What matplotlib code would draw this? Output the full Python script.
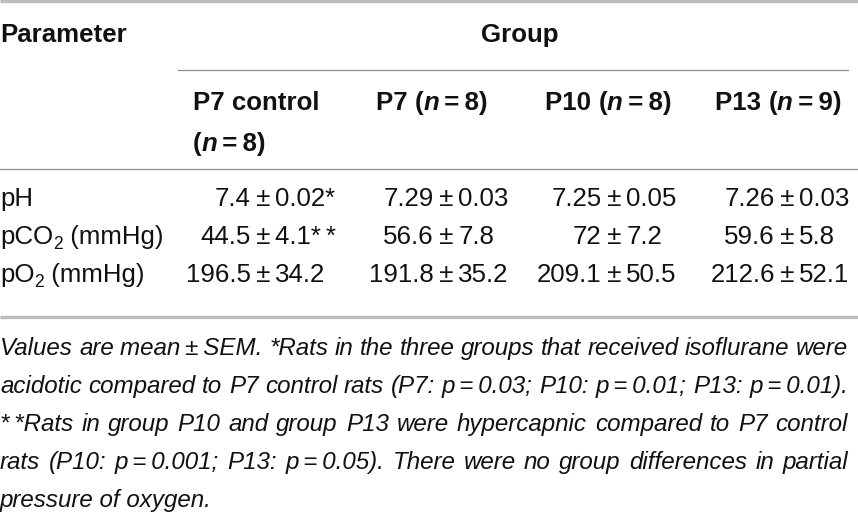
import matplotlib.pyplot as plt

plt.rcParams['font.family'] = ['Liberation Sans', 'DejaVu Sans']

# table content
params = ['pH', 'pCO_2 (mmHg)', 'pO_2 (mmHg)']
groups = ['P7 control', 'P7', 'P10', 'P13']
group_n = ['8', '8', '8', '9']
means = [['7.4', '7.29', '7.25', '7.26'],
         ['44.5', '56.6', '72', '59.6'],
         ['196.5', '191.8', '209.1', '212.6']]
sems = [['0.02*', '0.03', '0.05', '0.03'],
        ['4.1*\u2009*', '7.8', '7.2', '5.8'],
        ['34.2', '35.2', '50.5', '52.1']]
footnote = [
    'Values are mean\u2009\u00b1\u2009SEM. *Rats in the three groups that received isoflurane were',
    'acidotic compared to P7 control rats (P7: p\u2009=\u20090.03; P10: p\u2009=\u20090.01; P13: p\u2009=\u20090.01).',
    '*\u2009*Rats in group P10 and group P13 were hypercapnic compared to P7 control',
    'rats (P10: p\u2009=\u20090.001; P13: p\u2009=\u20090.05). There were no group differences in partial',
    'pressure of oxygen.',
]

W, H = 858, 516
FS = 18.6
FS_NOTE = 17.4
TXT = '#111111'

fig = plt.figure(figsize=(W / 100, H / 100), dpi=100)
ax = fig.add_axes([0, 0, 1, 1])
ax.set_xlim(0, W)
ax.set_ylim(H, 0)
ax.axis('off')
renderer = fig.canvas.get_renderer()


def ink_width(s, style):
    t = ax.text(0, 0, s, fontsize=style.get('size', FS),
                fontweight=style.get('weight', 'normal'),
                fontstyle=style.get('style', 'normal'))
    w = t.get_window_extent(renderer).width
    t.remove()
    return w


def advance(s, style):
    # width incl. leading/trailing spaces
    return ink_width('x' + s + 'x', style) - ink_width('xx', style)


def draw_runs(x, y, runs, align='left'):
    total = sum(advance(s, st) for s, st in runs)
    cx = x - {'left': 0, 'center': total / 2, 'right': total}[align]
    for s, st in runs:
        ax.text(cx, y + st.get('dy', 0), s, fontsize=st.get('size', FS),
                fontweight=st.get('weight', 'normal'),
                fontstyle=st.get('style', 'normal'),
                va='baseline', ha='left', color=TXT)
        cx += advance(s, st)


def label_runs(label):
    # "pCO_2 (mmHg)" -> subscript 2
    if '_' not in label:
        return [(label, {})]
    a, b = label.split('_', 1)
    return [(a, {}), (b[0], {'size': FS * 0.68, 'dy': 5}), (b[1:], {})]


# rules
ax.plot([0, W], [1.2, 1.2], color='#bdbdbd', lw=2.4, solid_capstyle='butt')
ax.plot([178, 848], [69.5, 69.5], color='#8c8c8c', lw=0.9)
ax.plot([0, W], [168.5, 168.5], color='#8c8c8c', lw=0.9)
ax.plot([0, W], [316.5, 316.5], color='#bdbdbd', lw=2.4, solid_capstyle='butt')

B = {'weight': 'bold'}
BI = {'weight': 'bold', 'style': 'italic'}

# header
draw_runs(0, 42, [('Parameter', B)])
draw_runs(520, 42, [('Group', B)], align='center')
col_left = [193, 376, 545, 715]
for i, g in enumerate(groups):
    nrun = [('(', B), ('n', BI), ('\u2009=\u2009' + group_n[i] + ')', B)]
    if i == 0:
        draw_runs(col_left[i], 110, [(g, B)])
        draw_runs(col_left[i], 151, nrun)
    else:
        draw_runs(col_left[i], 110, [(g + ' ', B)] + nrun)

# body, aligned on the plus-minus sign
pm_x = [263, 446, 614, 787]
pm = '\u2009\u00b1\u2009'
row_y = [206, 244, 282]
for r, p in enumerate(params):
    draw_runs(0, row_y[r], label_runs(p))
    for c in range(len(groups)):
        left = pm_x[c] - advance(pm, {}) / 2 - advance(means[r][c], {})
        draw_runs(left, row_y[r], [(means[r][c], {}), (pm, {}), (sems[r][c], {})])

# footnote, justified
IT = {'style': 'italic', 'size': FS_NOTE}
fn_y = [355, 393, 431, 469, 507]
x0, x1 = 0, 848
for k, line in enumerate(footnote):
    if k == len(footnote) - 1:
        draw_runs(x0, fn_y[k], [(line, IT)])
        continue
    words = line.split(' ')
    widths = [advance(w_, IT) for w_ in words]
    gap = (x1 - x0 - sum(widths)) / (len(words) - 1)
    cx = x0
    for w_, wd in zip(words, widths):
        ax.text(cx, fn_y[k], w_, fontsize=FS_NOTE, fontstyle='italic',
                va='baseline', ha='left', color=TXT)
        cx += wd + gap

fig.savefig('out.png', dpi=100)
